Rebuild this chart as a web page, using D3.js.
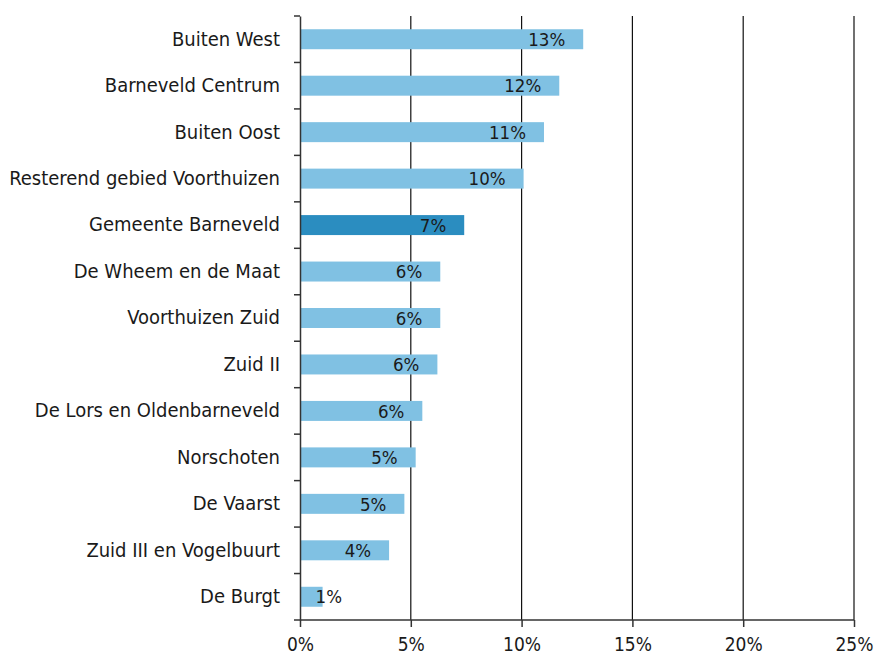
<!DOCTYPE html>
<html>
<head>
<meta charset="utf-8">
<script src="https://cdn.jsdelivr.net/npm/d3@7"></script>
<style>
  html, body { margin: 0; padding: 0; background: #fff; }
  svg text { font-family: "DejaVu Sans Condensed", "Liberation Sans Narrow", sans-serif; fill: #1a1a1a; }
</style>
</head>
<body>
<svg id="chart" width="875" height="657"></svg>
<script>
// Neighbourhoods, top to bottom
const categories = [
  "Buiten West",
  "Barneveld Centrum",
  "Buiten Oost",
  "Resterend gebied Voorthuizen",
  "Gemeente Barneveld",
  "De Wheem en de Maat",
  "Voorthuizen Zuid",
  "Zuid II",
  "De Lors en Oldenbarneveld",
  "Norschoten",
  "De Vaarst",
  "Zuid III en Vogelbuurt",
  "De Burgt"
];
// Share in percent
const values = [12.78, 11.70, 11.01, 10.09, 7.41, 6.33, 6.33, 6.20, 5.52, 5.22, 4.71, 4.02, 1.02];
// The municipality total is highlighted
const highlighted = ["Gemeente Barneveld"];
const xTicks = [0, 5, 10, 15, 20, 25];

const margin = { top: 16, right: 21, bottom: 37, left: 300 };
const width = 875, height = 657;
const svg = d3.select("#chart");

const x = d3.scaleLinear().domain([0, 25]).range([margin.left, width - margin.right]);
const y = d3.scaleBand().domain(categories).range([margin.top, height - margin.bottom]).paddingInner(0.57).paddingOuter(0.285);
const yb = d3.scaleBand().domain(categories).range([margin.top, height - margin.bottom]);

// vertical gridlines
svg.append("g")
  .selectAll("line")
  .data(xTicks.filter(t => t > 0))
  .join("line")
  .attr("x1", d => x(d)).attr("x2", d => x(d))
  .attr("y1", margin.top).attr("y2", height - margin.bottom)
  .attr("stroke", "#111").attr("stroke-width", 1.2);

// bars
svg.append("g")
  .selectAll("rect")
  .data(categories)
  .join("rect")
  .attr("x", x(0))
  .attr("y", d => y(d))
  .attr("width", (d, i) => x(values[i]) - x(0))
  .attr("height", y.bandwidth())
  .attr("fill", d => highlighted.includes(d) ? "#2b8dc0" : "#80c1e3");

// value labels
svg.append("g")
  .selectAll("text")
  .data(categories)
  .join("text")
  .attr("x", (d, i) => Math.max(x(values[i]) - 18, x(0) + 42))
  .attr("y", d => y(d) + y.bandwidth() / 2)
  .attr("dy", "0.36em")
  .attr("text-anchor", "end")
  .style("font-size", "18.5px")
  .text((d, i) => Math.round(values[i]) + "%");

// left axis
const yAxis = d3.axisLeft(yb).tickSize(0).tickPadding(20);
const gy = svg.append("g").attr("transform", `translate(${x(0)},0)`).call(yAxis);
gy.select(".domain").attr("stroke", "#333").attr("stroke-width", 1.5);
gy.selectAll("text").style("font-size", "20px");
// category boundary ticks
gy.append("g")
  .selectAll("line")
  .data(d3.range(categories.length + 1))
  .join("line")
  .attr("x1", -6).attr("x2", 0)
  .attr("y1", i => margin.top + i * yb.step())
  .attr("y2", i => margin.top + i * yb.step())
  .attr("stroke", "#333").attr("stroke-width", 1.5);

// bottom axis
const xAxis = d3.axisBottom(x).tickValues(xTicks).tickSize(7).tickPadding(11).tickFormat(d => d + "%");
const gx = svg.append("g").attr("transform", `translate(0,${height - margin.bottom})`).call(xAxis);
gx.select(".domain").attr("stroke", "#333").attr("stroke-width", 1.5).attr("d", `M${x(0)},0H${x(25)}`);
gx.selectAll(".tick line").attr("stroke", "#333").attr("stroke-width", 1.5);
gx.selectAll("text").style("font-size", "19px");
</script>
</body>
</html>
